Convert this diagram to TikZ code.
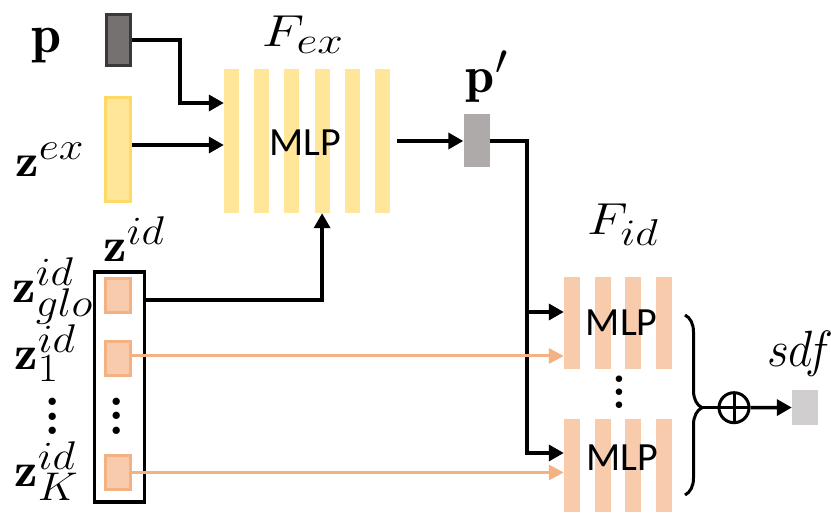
\documentclass[tikz,border=0pt]{standalone}
\usepackage{fontspec}
\newfontfamily\mlpfont{Carlito}
\usetikzlibrary{arrows.meta,decorations.pathreplacing}
\definecolor{exyel}{HTML}{FFE699}
\definecolor{exbrd}{HTML}{FFD966}
\definecolor{idora}{HTML}{F8CBAD}
\definecolor{idbrd}{HTML}{F4B183}
\definecolor{pgry}{HTML}{767171}
\definecolor{pbrd}{HTML}{3B3838}
\definecolor{ppgry}{HTML}{AEAAAA}
\definecolor{sdfgry}{HTML}{D0CECE}
\newcommand\fsz[1]{\fontsize{#1}{#1}\selectfont}
\newcommand\tightdots{\vbox{\baselineskip4pt \lineskiplimit0pt \hbox{.}\hbox{.}\hbox{.}}}
\tikzset{
  lbl/.style={inner sep=0pt, font=\Huge},
  vecbox/.style={line width=3pt, inner sep=0pt},
  idvec/.style={vecbox, draw=idbrd, fill=idora, minimum width=25pt, minimum height=34pt},
  exbar/.style={fill=exyel, minimum width=15pt, minimum height=144pt, inner sep=0pt},
  idbar/.style={fill=idora, minimum width=16pt, inner sep=0pt},
  mlp/.style={font=\mlpfont\fsz{40}, inner sep=0pt},
  dotsv/.style={font=\Huge, scale=#1, inner sep=0pt},
  arr/.style={line width=3.5pt, -{Triangle[length=15pt,width=16pt]}},
  oarr/.style={draw=idbrd, line width=3pt, -{Triangle[length=15pt,width=15pt]}},
  sumnode/.style={circle, draw, line width=3pt, minimum size=30pt, inner sep=0pt,
    path picture={\draw[line width=3pt] (path picture bounding box.north) -- (path picture bounding box.south)
      (path picture bounding box.west) -- (path picture bounding box.east);}}
}
\begin{document}
\begin{tikzpicture}[x=1pt, y=1pt]
  \def\exstep{30.2}
  \def\idstep{30.7}
  \useasboundingbox (0,0) rectangle (831,514);
  %
  % inputs
  \node[vecbox, draw=pbrd, fill=pgry, minimum width=24pt, minimum height=51pt] (pbox) at (118.5,474) {};
  \node[lbl, anchor=base, scale=2.17] (plbl) at (47,461.3) {$\mathbf{p}$};
  \node[vecbox, draw=exbrd, fill=exyel, minimum width=25pt, minimum height=104pt] (zex) at (118,364.5) {};
  \node[lbl, anchor=base west, xscale=2.13, yscale=1.85] (zexlbl) at (15,337.3) {$\mathbf{z}^{ex}$};
  %
  % F_ex
  \foreach \i in {1,...,6}
    \node[exbar] (ex\i) at ({231.5+(\i-1)*\exstep},373) {};
  \node[mlp] (exmlp) at (305.5,371) {MLP};
  \node[lbl, anchor=base, xscale=2.21, yscale=1.8] (fexlbl) at (303,467.3) {$F_{ex}$};
  %
  % p'
  \node[fill=ppgry, minimum width=26pt, minimum height=53pt, inner sep=0pt] (pp) at (476.5,373) {};
  \node[lbl, anchor=base, xscale=2.1, yscale=2.05] (pplbl) at (487,421) {$\mathbf{p}'$};
  %
  % z^id
  \node[draw, line width=3.5pt, minimum width=50pt, minimum height=230pt, inner sep=0pt] (zid) at (119.5,127) {};
  \node[lbl, anchor=base west, xscale=2.12, yscale=1.93] (zidlbl) at (103,252) {$\mathbf{z}^{id}$};
  \node[idvec] (zglo) at (118,218.5) {};
  \node[idvec] (z1) at (118,155) {};
  \node[dotsv=3.6] (zdots) at (117,98) {\tightdots};
  \node[idvec] (zK) at (118,41.5) {};
  \node[lbl, anchor=base west, xscale=2.12, yscale=1.93] (zglolbl) at (12,211) {$\mathbf{z}^{id}_{glo}$};
  \node[lbl, anchor=base west, xscale=2.12, yscale=1.93] (z1lbl) at (14,144) {$\mathbf{z}^{id}_{1}$};
  \node[dotsv=3.6] (ldots) at (53,97.5) {\tightdots};
  \node[lbl, anchor=base west, xscale=2.12, yscale=1.93] (zKlbl) at (14,27) {$\mathbf{z}^{id}_{K}$};
  %
  % F_id
  \foreach \i in {1,...,4} {
    \node[idbar, minimum height=92pt] (ida\i) at ({572+(\i-1)*\idstep},191) {};
    \node[idbar, minimum height=93pt] (idb\i) at ({572+(\i-1)*\idstep},48.5) {};
  }
  \node[mlp] (idamlp) at (621.7,191) {MLP};
  \node[mlp] (idbmlp) at (622,56.5) {MLP};
  \node[dotsv=3.2] (iddots) at (619,121.5) {\tightdots};
  \node[lbl, anchor=base, xscale=2.12, yscale=1.8] (fidlbl) at (623,279) {$F_{id}$};
  %
  % output
  \node[sumnode] (sum) at (734,106.3) {};
  \node[fill=sdfgry, minimum width=26pt, minimum height=35pt, inner sep=0pt] (sdfbox) at (805,106.5) {};
  \node[lbl, anchor=base, xscale=1.9, yscale=2.05] (sdflbl) at (800,147) {$sdf$};
  %
  % connectors
  \draw[arr] (pbox.east) -- ++(48,0) |- ([yshift=38pt]ex1.west);
  \draw[arr] ([yshift=4.5pt]zex.east) -- ([yshift=-4pt]ex1.west);
  \path (zid.east |- zglo) ++(0,-4.5) coordinate (gloout);
  \draw[arr] (gloout) -| (ex4.south);
  \draw[arr] ([xshift=7pt]ex6.east) -- (pp.west);
  \coordinate (tap) at (527,202);
  \draw[arr] (pp.east) -| (tap) -- (tap -| ida1.west);
  \draw[arr] (tap) |- ([yshift=12.5pt]idb1.west);
  \draw[oarr] ([yshift=3pt]z1.east) -- ([yshift=-33pt]ida1.west);
  \draw[oarr] (zK.east) -- (zK.east -| idb1.west);
  %
  % brace and sum
  \draw[line width=3pt, decorate, decoration={brace, amplitude=17pt, aspect=0.515}] (685,199) -- (685,19);
  \coordinate (btip) at (702,106.3);
  \draw[line width=3pt] (btip) -- (sum.west);
  \draw[arr] (sum.east) -- (sdfbox.west);
\end{tikzpicture}
\end{document}
